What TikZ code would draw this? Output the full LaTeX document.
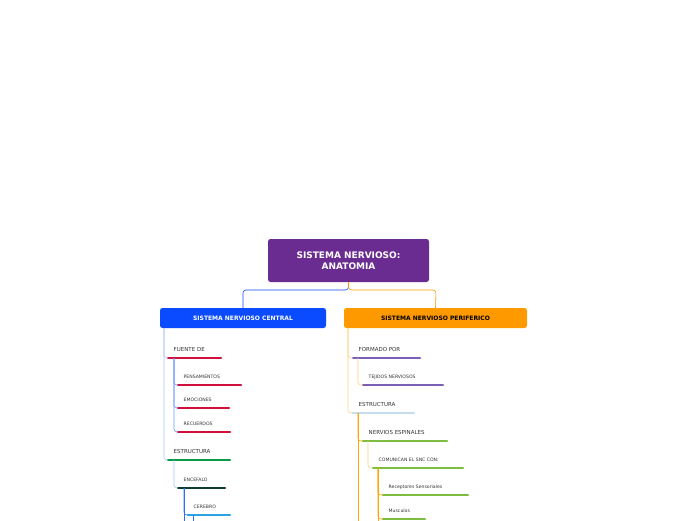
\documentclass[tikz,border=0pt]{standalone}
\usepackage{fontspec}
\setmainfont{DejaVu Sans}
\usetikzlibrary{positioning}
\definecolor{rootc}{HTML}{6A2C91}
\definecolor{sncc}{HTML}{0A4BFF}
\definecolor{snpc}{HTML}{FF9900}
\definecolor{redc}{HTML}{D0103A}
\definecolor{greenc}{HTML}{0A9A4A}
\definecolor{dgreenc}{HTML}{0B3D2E}
\definecolor{skyc}{HTML}{2BA3E0}
\definecolor{purpc}{HTML}{7B5EB5}
\definecolor{paleblue}{HTML}{C5DDF0}
\definecolor{limec}{HTML}{7CBF40}
\definecolor{lblue}{HTML}{A8C4FF}
\definecolor{mblue}{HTML}{2F6BFF}
\definecolor{lorange}{HTML}{FFD27F}
\definecolor{morange}{HTML}{FFA500}
\tikzset{
  topic/.style={rounded corners=2.5pt,text=white,font=\bfseries\fontsize{6}{7}\selectfont,inner sep=0pt},
  item/.style={anchor=base west,inner sep=0pt,font=\fontsize{5.5}{6}\selectfont,text=black!80},
  small/.style={anchor=base west,inner sep=0pt,font=\fontsize{4.6}{5}\selectfont,text=black!80},
  uline/.style={line width=2.2pt,line cap=round},
  link/.style={line width=0.6pt,rounded corners=3pt}
}
\begin{document}
\begin{tikzpicture}[x=1pt,y=-1pt]
\useasboundingbox (0,0) rectangle (696,520);
\clip (0,0) rectangle (696,520);
% main boxes
\node (root)[topic,fill=rootc,minimum width=161pt,minimum height=43pt,align=center,font=\bfseries\fontsize{9}{10.5}\selectfont] at (348.5,260.5) {SISTEMA NERVIOSO:\\ANATOMIA};
\node (snc)[topic,fill=sncc,minimum width=166pt,minimum height=20pt] at (243,318) {SISTEMA NERVIOSO CENTRAL};
\node (snp)[topic,fill=snpc,text=black,minimum width=183pt,minimum height=20pt] at (435.5,318) {SISTEMA NERVIOSO PERIFERICO};
\draw[link,sncc] (root.south) |- (243,290) -- (snc.north);
\draw[link,snpc] (root.south) |- (436,290) -- (snp.north);
% central branch
\foreach \name/\txt/\x/\y/\l/\c/\s in {fuente/FUENTE DE/168/358/53/redc/item,pens/PENSAMIENTOS/178/385/63/redc/small,emoc/EMOCIONES/178/408/51/redc/small,recu/RECUERDOS/178/432/52/redc/small,estr/ESTRUCTURA/168/460/62/greenc/item,ence/ENCEFALO/178/488/47/dgreenc/small,cere/CEREBRO/188/515/42/skyc/small}
{\coordinate (\name) at (\x,\y);
 \draw[uline,\c] (\x,\y) -- ++(\l,0);
 \node[\s] at (\x+5.5,\y-7) {\txt};}
% peripheral branch
\foreach \name/\txt/\x/\y/\l/\c/\s in {form/FORMADO POR/353/358/67/purpc/item,teji/TEJIDOS NERVIOSOS/363/385/80/purpc/small,estp/ESTRUCTURA/353/413/61/paleblue/item,nerv/NERVIOS ESPINALES/363/441/84/limec/item,comu/COMUNICAN EL SNC CON:/373/468/90/limec/small,rece/Receptores Sensoriales/383/495/85/limec/small,musc/Musculos/383/519/42/limec/small}
{\coordinate (\name) at (\x,\y);
 \draw[uline,\c] (\x,\y) -- ++(\l,0);
 \node[\s] at (\x+5.5,\y-7) {\txt};}
% connectors
\draw[link,lblue] (164,328) |- (fuente);
\draw[link,lblue] (164,328) |- (estr);
\foreach \n in {pens,emoc,recu}
\draw[link,mblue!70] (174,358) |- (\n);
\draw[link,lblue] (174,460) |- (ence);
\draw[link,mblue] (184,488) |- (cere);
\draw[link,mblue] (184,488) -- (184,530);
\draw[link,mblue] (193,515) -- (193,530);
\draw[link,lorange] (348,328) |- (form);
\draw[link,lorange] (348,328) |- (estp);
\draw[link,lorange] (358,358) |- (teji);
\draw[link,morange] (358,413) |- (nerv);
\draw[link,morange] (358,413) -- (358,530);
\draw[link,lorange] (368,441) |- (comu);
\draw[link,morange] (378,468) |- (rece);
\draw[link,morange] (378,468) |- (musc);
\draw[link,morange] (378,468) -- (378,530);
\end{tikzpicture}
\end{document}
